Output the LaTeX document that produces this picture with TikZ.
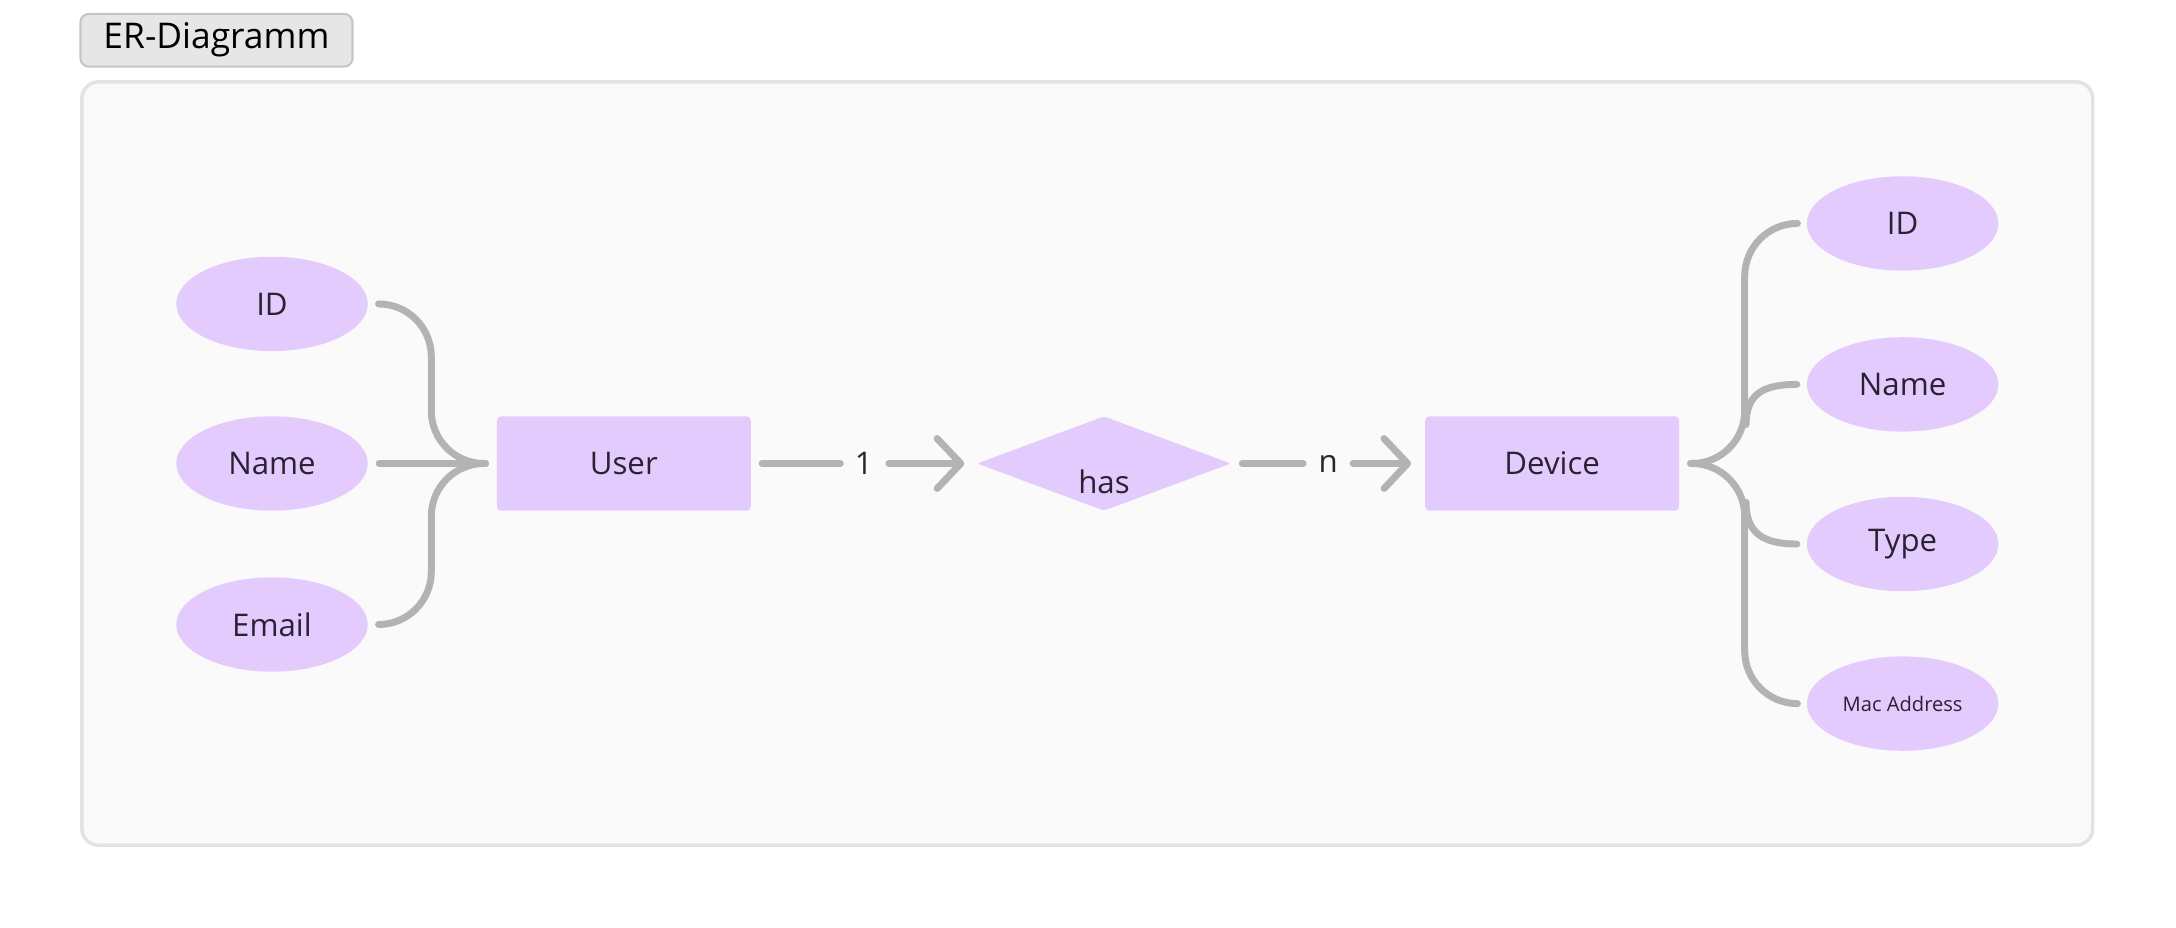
\documentclass[tikz,border=0pt]{standalone}
\usepackage{fontspec}
\setmainfont{Open Sans}
\usetikzlibrary{shapes.geometric,arrows.meta,calc}
\definecolor{bgfill}{HTML}{FAFAFA}
\definecolor{frameline}{HTML}{E3E3E3}
\definecolor{tagfill}{HTML}{E6E6E6}
\definecolor{tagline}{HTML}{C6C6C6}
\definecolor{lav}{HTML}{E3CCFD}
\definecolor{connc}{HTML}{B3B3B3}
\definecolor{ink}{HTML}{2A2233}
\begin{document}
\begin{tikzpicture}[x=1pt,y=-1pt,
  bigtext/.style={font=\fontsize{22.5}{26}\selectfont},
  attr/.style={ellipse, fill=lav, minimum width=138pt, minimum height=68pt, inner sep=0pt, text=ink, bigtext},
  entity/.style={rectangle, rounded corners=3pt, fill=lav, minimum width=183pt, minimum height=68pt, inner sep=0pt, text=ink, bigtext},
  rel/.style={diamond, fill=lav, aspect=2.69, minimum width=183pt, minimum height=68pt, inner sep=0pt, rounded corners=2pt},
  link/.style={draw=connc, line width=5pt, line cap=round, line join=round},
  card/.style={text=ink, bigtext, inner sep=0pt},
  tag/.style={rectangle, rounded corners=6pt, fill=tagfill, draw=tagline, line width=1.5pt, minimum width=196pt, minimum height=38pt, inner sep=0pt, font=\fontsize{25.5}{30}\selectfont, text=black},
  barb/.style={-{Straight Barb[length=17pt,width=36pt,round]}}
]
\useasboundingbox (0,0) rectangle (1568,668.7);
\fill[white] (0,0) rectangle (1568,668.7);
% frame
\draw[draw=frameline, fill=bgfill, line width=2.5pt, rounded corners=12pt] (59,59) rectangle (1508,609);
\node[tag] (title) at (156,29) {ER-Diagramm};

% left attributes
\node[attr] (uid) at (196,219) {ID};
\node[attr] (uname) at (196,334) {Name};
\node[attr] (uemail) at (196,450) {Email};
% entities / relation
\node[entity] (user) at (449.5,334) {User};
\node[rel] (has) at (795.5,334) {};
\node[text=ink, bigtext] (hastext) at (795.5,347) {has};
\node[entity] (device) at (1118.5,334) {Device};
% right attributes
\node[attr] (did) at (1371,161) {ID};
\node[attr] (dname) at (1371,277) {Name};
\node[attr] (dtype) at (1371,392) {Type};
\node[attr, font=\fontsize{14.5}{17}\selectfont] (dmac) at (1371,507) {Mac Address};

% left bracket
\coordinate (uj) at ($(user.west)+(-8,0)$);
\draw[link, rounded corners=38pt] ($(uid.east)+(8,0)$) -| ($(uj)+(-39,0)$) -- (uj);
\draw[link] ($(uname.east)+(8,0)$) -- (uj);
\draw[link, rounded corners=38pt] ($(uemail.east)+(8,0)$) -| ($(uj)+(-39,0)$) -- (uj);

% relationship connectors
\node[card] (c1) at ($(user.east)!0.5!(has.west)$) {1};
\draw[link] ($(user.east)+(8,0)$) -- ($(c1)+(-17,0)$);
\draw[link, barb] ($(c1)+(18,0)$) -- ($(has.west)+(-9,0)$);
\node[card] (cn) at ($(has.east)!0.5!(device.west)$) {n};
\draw[link] ($(has.east)+(8,0)$) -- ($(cn)+(-18,0)$);
\draw[link, barb] ($(cn)+(18,0)$) -- ($(device.west)+(-10,0)$);

% right bracket
\coordinate (dj) at ($(device.east)+(8,0)$);
\draw[link, rounded corners=38pt] (dj) -| ($(dj)+(39,-173)$) -- ($(did.west)+(-7,0)$);
\draw[link, rounded corners=38pt] (dj) -| ($(dj)+(39,173)$) -- ($(dmac.west)+(-7,0)$);
\draw[link] ($(dj)+(40,-28)$) .. controls ($(dj)+(40,-50)$) and ($(dj)+(52,-57)$) .. ($(dname.west)+(-7,0)$);
\draw[link] ($(dj)+(40,28)$) .. controls ($(dj)+(40,50)$) and ($(dj)+(52,58)$) .. ($(dtype.west)+(-7,0)$);
\end{tikzpicture}
\end{document}
